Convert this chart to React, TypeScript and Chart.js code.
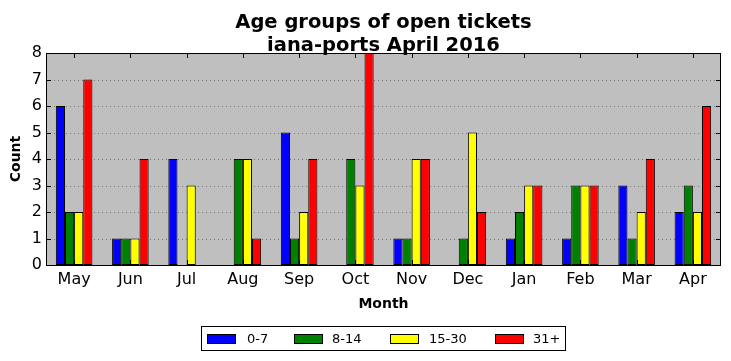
import React, { useEffect, useRef } from "react";
import { Chart, registerables } from "chart.js";

Chart.register(...registerables);

const months = ["May", "Jun", "Jul", "Aug", "Sep", "Oct", "Nov", "Dec", "Jan", "Feb", "Mar", "Apr"];
const age0to7 = [6, 1, 4, 0, 5, 0, 1, 0, 1, 1, 3, 2];
const age8to14 = [2, 1, 0, 4, 1, 4, 1, 1, 2, 3, 1, 3];
const age15to30 = [2, 1, 3, 4, 2, 3, 4, 5, 3, 3, 2, 2];
const age31plus = [7, 4, 0, 1, 4, 8, 4, 2, 3, 3, 4, 6];
const seriesNames = ["0-7", "8-14", "15-30", "31+"];
const seriesColors = ["#0000ff", "#008000", "#ffff00", "#ff0000"];
const titleLines = ["Age groups of open tickets", "iana-ports April 2016"];
const yMax = 8;

const FONT = "'DejaVu Sans', sans-serif";

const decorPlugin = {
  id: "decor",
  beforeDatasetsDraw(chart: any) {
    const { ctx, chartArea: a, scales } = chart;
    ctx.save();
    ctx.fillStyle = "#bfbfbf";
    ctx.fillRect(a.left, a.top, a.right - a.left, a.bottom - a.top);
    ctx.strokeStyle = "rgba(0,0,0,0.38)";
    ctx.lineWidth = 1;
    ctx.setLineDash([1, 3]);
    for (let v = 1; v < yMax; v++) {
      const y = Math.round(scales.y.getPixelForValue(v)) + 0.5;
      ctx.beginPath();
      ctx.moveTo(a.left, y);
      ctx.lineTo(a.right, y);
      ctx.stroke();
    }
    ctx.restore();
  },
  afterDatasetsDraw(chart: any) {
    const { ctx, chartArea: a, scales } = chart;
    ctx.save();
    ctx.strokeStyle = "#000";
    ctx.lineWidth = 1;
    ctx.setLineDash([]);
    const tl = 5;
    months.forEach((_, i) => {
      const x = Math.round(scales.x.getPixelForValue(i)) + 0.5;
      ctx.beginPath();
      ctx.moveTo(x, a.bottom);
      ctx.lineTo(x, a.bottom - tl);
      ctx.moveTo(x, a.top);
      ctx.lineTo(x, a.top + tl);
      ctx.stroke();
    });
    for (let v = 0; v <= yMax; v++) {
      const y = Math.round(scales.y.getPixelForValue(v)) + 0.5;
      ctx.beginPath();
      ctx.moveTo(a.left, y);
      ctx.lineTo(a.left + tl, y);
      ctx.moveTo(a.right, y);
      ctx.lineTo(a.right - tl, y);
      ctx.stroke();
    }
    ctx.strokeRect(a.left + 0.5, a.top + 0.5, a.right - a.left - 1, a.bottom - a.top);
    ctx.restore();
  },
  afterDraw(chart: any) {
    const { ctx, chartArea: a } = chart;
    ctx.save();
    // Title
    ctx.fillStyle = "#000";
    ctx.font = `bold 19.5px ${FONT}`;
    ctx.textAlign = "center";
    ctx.textBaseline = "alphabetic";
    const cx = (a.left + a.right) / 2;
    ctx.fillText(titleLines[0], cx, 28);
    ctx.fillText(titleLines[1], cx, 51);
    // Legend
    const rectX = [207, 294, 390, 495];
    const textX = [247, 332, 429, 533];
    ctx.font = `13px ${FONT}`;
    ctx.textAlign = "left";
    ctx.strokeStyle = "#000";
    ctx.lineWidth = 1;
    seriesNames.forEach((name, i) => {
      const x = rectX[i];
      ctx.fillStyle = seriesColors[i];
      ctx.fillRect(x, 334, 28, 9);
      ctx.strokeRect(x + 0.5, 334.5, 28, 9);
      ctx.fillStyle = "#000";
      ctx.fillText(name, textX[i], 343);
    });
    ctx.strokeRect(201.5, 326.5, 364, 24);
    ctx.restore();
  },
};

export default function App() {
  const ref = useRef<HTMLCanvasElement | null>(null);
  useEffect(() => {
    if (!ref.current) return;
    const dataArrays = [age0to7, age8to14, age15to30, age31plus];
    const chart = new Chart(ref.current, {
      type: "bar",
      data: {
        labels: months,
        datasets: dataArrays.map((d, i) => ({
          label: seriesNames[i],
          data: d,
          backgroundColor: seriesColors[i],
          borderColor: "#000",
          borderWidth: 1,
          borderSkipped: false,
          barPercentage: 1,
          categoryPercentage: 0.65,
        })),
      },
      options: {
        responsive: false,
        animation: false,
        events: [],
        layout: { padding: { top: 53, right: 10, bottom: 44, left: 0 } },
        plugins: {
          legend: { display: false },
          title: { display: false },
          tooltip: { enabled: false },
        },
        scales: {
          x: {
            grid: { display: false, drawTicks: false, tickLength: 0 },
            border: { display: false },
            ticks: { color: "#000", font: { family: FONT, size: 16 }, padding: 5, maxRotation: 0 },
            title: {
              display: true,
              text: "Month",
              color: "#000",
              font: { family: FONT, size: 14, weight: "bold" },
              padding: { top: 4, bottom: 4 },
            },
            afterFit: (s: any) => {
              s.height = 52;
            },
          },
          y: {
            min: 0,
            max: yMax,
            grid: { display: false, drawTicks: false, tickLength: 0 },
            border: { display: false },
            ticks: { stepSize: 1, color: "#000", font: { family: FONT, size: 16 }, padding: 4 },
            title: {
              display: true,
              text: "Count",
              color: "#000",
              font: { family: FONT, size: 14, weight: "bold" },
              padding: { top: 8, bottom: 4 },
            },
            afterFit: (s: any) => {
              s.width = 46;
            },
          },
        },
      },
      plugins: [decorPlugin],
    } as any);
    return () => chart.destroy();
  }, []);
  return (
    <div style={{ position: "absolute", left: 0, top: 0, width: 731, height: 361, background: "#fff" }}>
      <canvas ref={ref} width={731} height={361} />
    </div>
  );
}
